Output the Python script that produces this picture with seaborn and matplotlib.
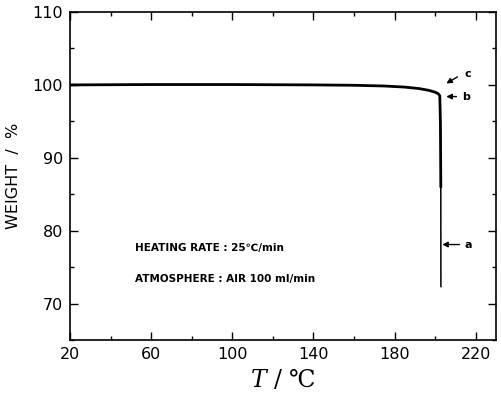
import matplotlib
matplotlib.use("Agg")
import matplotlib.pyplot as plt
import seaborn as sns
import numpy as np
from matplotlib.ticker import MultipleLocator

# data
temp_main = [20, 60, 100, 140, 160, 175, 185, 192, 197, 200, 201.5, 202.3, 202.6, 202.8]
weight_main = [100.0, 100.05, 100.05, 100.0, 99.95, 99.85, 99.7, 99.5, 99.25, 99.0, 98.8, 98.5, 95.0, 86.0]
temp_tail = [202.8, 202.85]
weight_tail = [86.0, 72.3]

x_ticks = [20, 60, 100, 140, 180, 220]
y_ticks = [70, 80, 90, 100, 110]
notes = ["HEATING RATE : 25\u2103/min", "ATMOSPHERE : AIR 100 ml/min"]
labels = ["a", "b", "c"]

sns.set_theme(style="ticks")
plt.rcParams['font.family'] = ['DejaVu Sans', 'Noto Sans CJK JP']
plt.rcParams['mathtext.fontset'] = 'dejavuserif'
plt.rcParams['text.color'] = 'black'
plt.rcParams['axes.labelcolor'] = 'black'
plt.rcParams['xtick.color'] = 'black'
plt.rcParams['ytick.color'] = 'black'

fig = plt.figure(figsize=(5.01, 3.94), dpi=100)
ax = fig.add_axes([0.1397, 0.137, 0.990 - 0.1397, 0.9695 - 0.137])

sns.lineplot(x=temp_main, y=weight_main, estimator=None, sort=False, color="black", lw=2.0, ax=ax)
sns.lineplot(x=temp_tail, y=weight_tail, estimator=None, sort=False, color="black", lw=1.1, ax=ax)

ax.set_xlim(20, 230)
ax.set_ylim(65, 110)
ax.set_xticks(x_ticks)
ax.set_yticks(y_ticks)
ax.xaxis.set_minor_locator(MultipleLocator(20))
ax.yaxis.set_minor_locator(MultipleLocator(5))
ax.tick_params(which="both", direction="in", top=True, right=True, colors="black")
ax.tick_params(which="major", length=6, width=1.0, labelsize=11.5, pad=5)
ax.tick_params(which="minor", length=3, width=1.0)
for s in ax.spines.values():
    s.set_linewidth(1.2)
    s.set_color("black")

ax.set_ylabel("WEIGHT  /  %", fontsize=11.5, labelpad=8)
ax.set_xlabel(r"$T$ / ℃", fontsize=17, family=['DejaVu Serif', 'Noto Sans CJK JP'], labelpad=4)

ax.text(52, 77.6, notes[0], fontsize=7.5, va="center", ha="left", fontweight="semibold")
ax.text(52, 73.4, notes[1], fontsize=7.5, va="center", ha="left", fontweight="semibold")

ap = dict(arrowstyle="-|>", color="black", lw=1.0, mutation_scale=8, shrinkA=0, shrinkB=0)
ax.annotate("", xy=(203.5, 78.1), xytext=(212, 78.1), arrowprops=ap)
ax.text(214.5, 78.1, labels[0], fontsize=8, va="center", ha="left", fontweight="bold")
ax.annotate("", xy=(205.5, 98.4), xytext=(210.5, 98.4), arrowprops=ap)
ax.text(213.5, 98.3, labels[1], fontsize=8, va="center", ha="left", fontweight="bold")
ax.annotate("", xy=(205.5, 100.2), xytext=(211, 101.1), arrowprops=ap)
ax.text(214.5, 101.5, labels[2], fontsize=8, va="center", ha="left", fontweight="bold")

fig.savefig("out.png", dpi=100)
